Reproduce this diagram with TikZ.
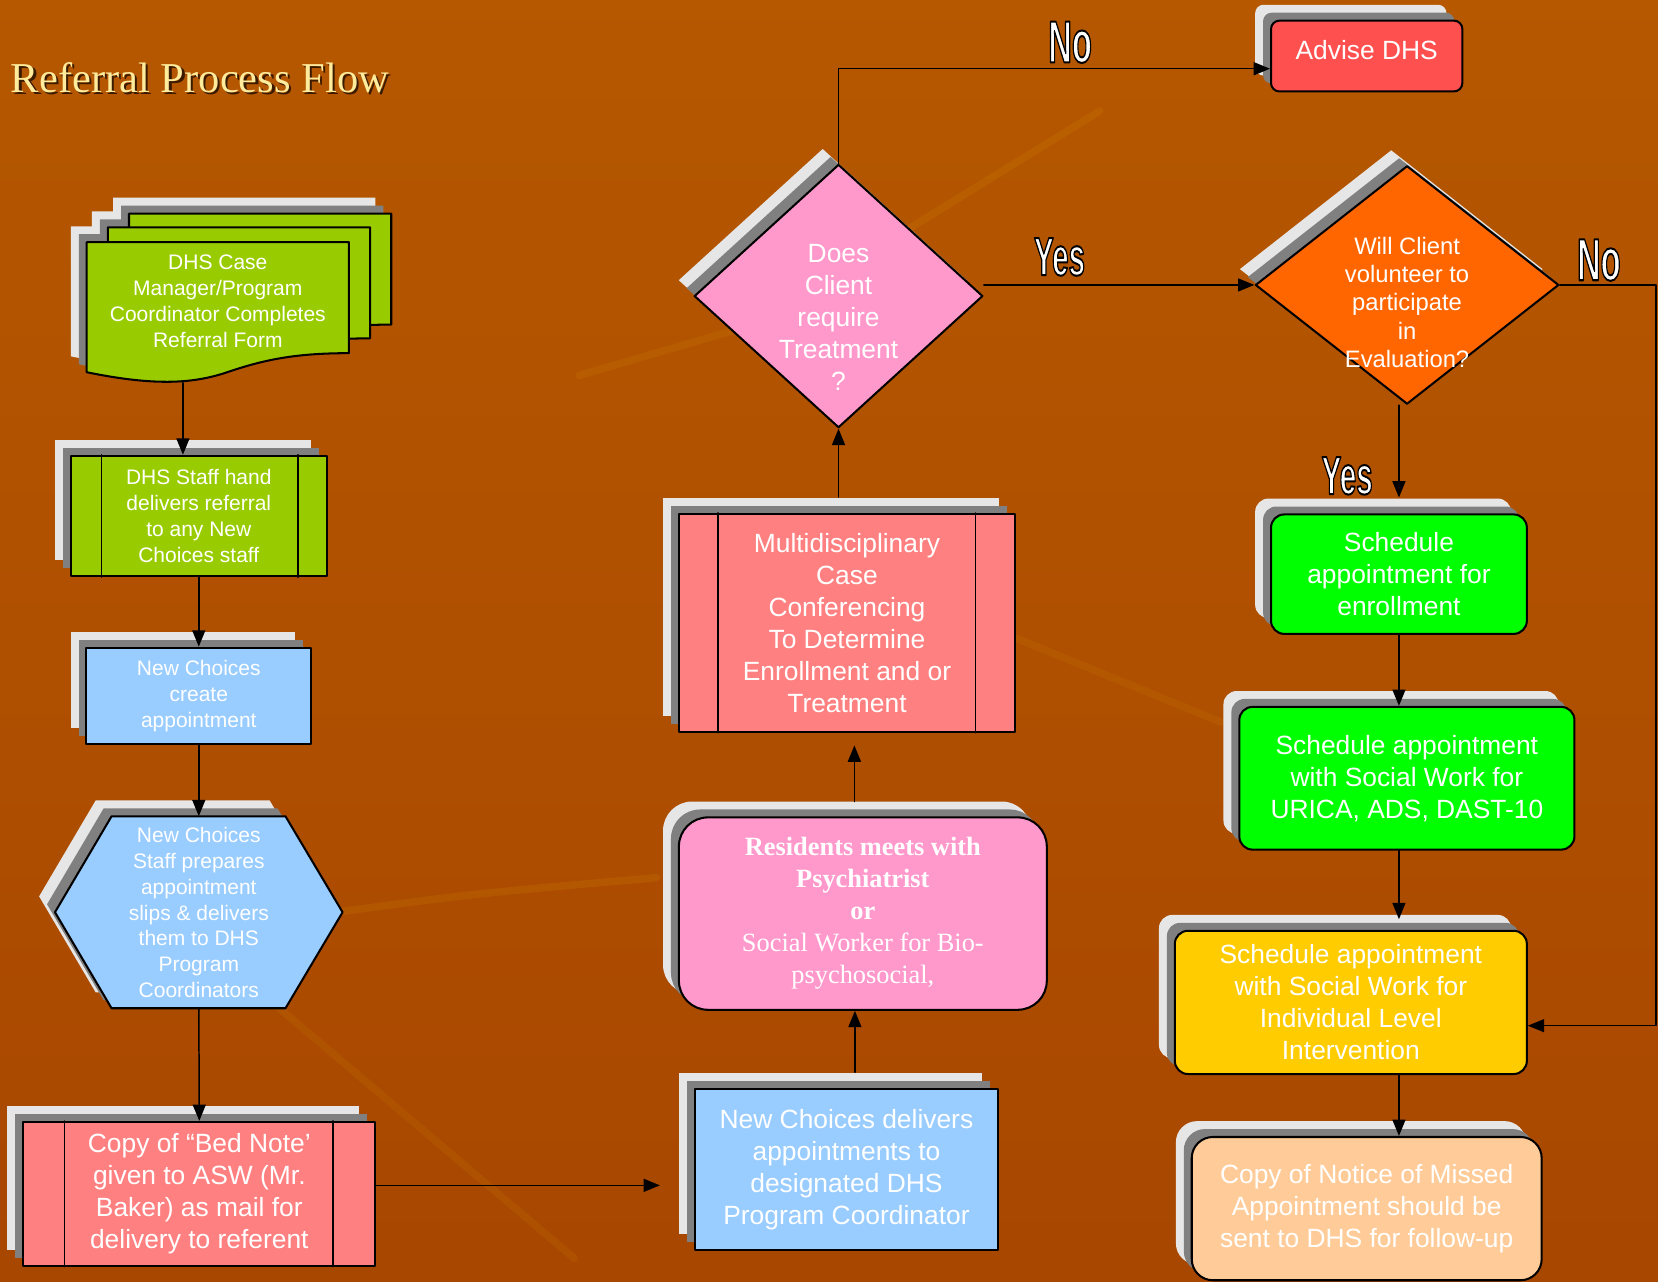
\documentclass[tikz,border=0pt]{standalone}
\usepackage{fontspec}
\setmainfont{Liberation Sans}
\newfontfamily\serifface{Liberation Serif}
\usetikzlibrary{arrows.meta}
\usetikzlibrary{shapes.geometric,shadows,calc}

\definecolor{bgtop}{HTML}{6A3400}
\definecolor{bgmidc}{HTML}{A85200}
\definecolor{bgmidb}{HTML}{B85C00}
\definecolor{bgmida}{HTML}{AE4E00}
\definecolor{bgbot}{HTML}{A03E00}
\definecolor{vein}{HTML}{D08A00}
\definecolor{shlight}{HTML}{E6E6E6}
\definecolor{shdark}{HTML}{808080}
\definecolor{docgreen}{HTML}{99CC00}
\definecolor{skyblue}{HTML}{99CCFF}
\definecolor{salmon}{HTML}{FF8080}
\definecolor{pinkbox}{HTML}{FF99CC}
\definecolor{advred}{HTML}{FF5050}
\definecolor{orangedia}{HTML}{FF6600}
\definecolor{brightgreen}{HTML}{00FF00}
\definecolor{goldbox}{HTML}{FFCC00}
\definecolor{peachbox}{HTML}{FFCC99}
\definecolor{titleyellow}{HTML}{FFEB9C}
\definecolor{titleshade}{HTML}{3A1A00}

\pgfdeclareverticalshading{bgshade}{100bp}{color(0bp)=(bgbot); color(45bp)=(bgmida); color(88bp)=(bgmidb); color(95bp)=(bgmidc); color(100bp)=(bgtop)}

% white letters with a black rim (fill + stroke render mode)
\newcommand\rimmed[1]{\special{pdf:literal direct 2 Tr 1.1 w 0 0 0 RG}#1\special{pdf:literal direct 0 Tr}}

% outline of one referral sheet, front sheet position
\def\docpath{(82,229) -- (330,229) -- (330,334) .. controls (280,334) and (250,340) .. (215,352) .. controls (185,362) and (150,366) .. (82,352) -- cycle}

\begin{document}
\begin{tikzpicture}[x=0.02cm,y=-0.02cm,line cap=round,line join=round,
    >={Triangle[length=8.8pt,width=7pt]},
    raised/.style={general shadow={fill=shlight,shadow xshift=-0.3cm,shadow yshift=0.3cm},
                   general shadow={fill=shdark,shadow xshift=-0.15cm,shadow yshift=0.15cm},
                   draw=black,line width=1.1pt},
    boxtext/.style={text=white,align=center,font=\fontsize{14.2}{17.2}\selectfont,inner sep=2pt},
    smalltext/.style={text=white,align=center,font=\fontsize{11.3}{13.9}\selectfont,inner sep=2pt},
    willtext/.style={text=white,align=center,font=\fontsize{12.8}{15.3}\selectfont,inner sep=0pt},
    flow/.style={->,line width=0.8pt},
    answer/.style={text=white,font=\bfseries\fontsize{#1}{#1}\selectfont,inner sep=0pt}]
  \useasboundingbox (0,0) rectangle (1568,1212);
  \shade[shading=bgshade] (0,0) rectangle (1568,1212);
  % faint leaf veins of the backdrop
  \draw[vein,opacity=0.18,line width=4pt] (323,862) .. controls (450,845) .. (621,830);
  \draw[vein,opacity=0.15,line width=4pt] (260,950) -- (543,1190);
  \draw[vein,opacity=0.18,line width=4pt] (1040,105) -- (852,221) (692,313) -- (548,355);
  \draw[vein,opacity=0.15,line width=4pt] (962,604) -- (1155,683);

  % title
  \node[anchor=base west,inner sep=0pt,text=titleyellow,font=\serifface\fontsize{22.9}{27}\selectfont] (title) at (10,87.6)
    {\makebox[0pt][l]{\hspace{1.2pt}\raisebox{-1.2pt}{\textcolor{titleshade}{Referral Process Flow}}}Referral Process Flow};

  % stack of referral forms
  \foreach \dx/\dy in {40/-27,20/-14,0/0}
    \fill[shlight,shift={(\dx-15,\dy-15)}] \docpath;
  \foreach \dx/\dy in {40/-27,20/-14,0/0}
    \fill[shdark,shift={(\dx-7.5,\dy-7.5)}] \docpath;
  \foreach \dx/\dy in {40/-27,20/-14,0/0}
    \draw[fill=docgreen,line width=1.1pt,shift={(\dx,\dy)}] \docpath;
  \node[smalltext] (form) at (206,285) {DHS Case\\Manager/Program\\Coordinator Completes\\Referral Form};
  \coordinate (formbot) at (173,362);

  % hexagon
  \def\hexpath{(52,862.7) -- (105.5,772) -- (270,772) -- (324,862.7) -- (270,953.5) -- (105.5,953.5) -- cycle}
  \fill[shlight,shift={(-15,-15)}] \hexpath;
  \fill[shdark,shift={(-7.5,-7.5)}] \hexpath;
  \draw[fill=skyblue,line width=1.1pt] \hexpath;

  % left column
  \node[raised,fill=docgreen,minimum width=4.84cm,minimum height=2.28cm,smalltext] (staff) at (188,488)
    {DHS Staff hand\\delivers referral\\to any New\\Choices staff};
  \draw[line width=0.7pt] ([xshift=0.6cm]staff.north west) -- ([xshift=0.6cm]staff.south west)
    ([xshift=-0.56cm]staff.north east) -- ([xshift=-0.56cm]staff.south east);
  \node[raised,fill=skyblue,minimum width=4.25cm,minimum height=1.82cm,smalltext] (create) at (188,658)
    {New Choices\\create\\appointment};
  \node[smalltext,minimum width=5.45cm,minimum height=3.63cm] (hex) at (188,863)
    {New Choices\\Staff prepares\\appointment\\slips \& delivers\\them to DHS\\Program\\Coordinators};
  \node[raised,fill=salmon,minimum width=6.66cm,minimum height=2.72cm,boxtext] (bednote) at (188.5,1129)
    {Copy of “Bed Note’\\given to ASW (Mr.\\Baker) as mail for\\delivery to referent};
  \draw[line width=0.7pt] ([xshift=0.8cm]bednote.north west) -- ([xshift=0.8cm]bednote.south west)
    ([xshift=-0.82cm]bednote.north east) -- ([xshift=-0.82cm]bednote.south east);

  % middle column
  \node[raised,fill=skyblue,minimum width=5.74cm,minimum height=3.04cm,boxtext] (ncdel) at (800.5,1106)
    {New Choices delivers\\appointments to\\designated DHS\\Program Coordinator};
  \node[raised,fill=pinkbox,rounded corners=0.55cm,minimum width=6.96cm,minimum height=3.64cm,boxtext,
    font=\serifface\fontsize{14.2}{17.2}\selectfont] (resid) at (816,864)
    {\textbf{Residents meets with}\\\textbf{Psychiatrist}\\\textbf{or}\\Social Worker for Bio-\\psychosocial,};
  \node[raised,fill=salmon,minimum width=6.36cm,minimum height=4.12cm,boxtext] (multi) at (801,589)
    {Multidisciplinary\\Case\\Conferencing\\To Determine\\Enrollment and or\\Treatment};
  \draw[line width=0.7pt] ([xshift=0.76cm]multi.north west) -- ([xshift=0.76cm]multi.south west)
    ([xshift=-0.77cm]multi.north east) -- ([xshift=-0.77cm]multi.south east);
  \node[raised,diamond,fill=pinkbox,minimum width=5.46cm,minimum height=4.98cm,inner sep=0pt,
    label={[boxtext,yshift=-0.4cm]center:{Does\\Client\\require\\Treatment\\?}}] (does) at (793,280) {};

  % right column
  \node[raised,fill=advred,rounded corners=0.16cm,minimum width=3.62cm,minimum height=1.34cm,boxtext,
    text depth=0.24cm] (advise) at (1292.5,53) {Advise DHS};
  \node[raised,diamond,fill=orangedia,minimum width=5.74cm,minimum height=4.51cm,inner sep=0pt,
    label={[willtext,yshift=-0.33cm]center:{Will Client\\volunteer to\\participate\\in\\Evaluation?}}] (will) at (1330.7,269.5) {};
  \node[raised,fill=brightgreen,rounded corners=0.25cm,minimum width=4.84cm,minimum height=2.26cm,boxtext] (enroll) at (1323,543)
    {Schedule\\appointment for\\enrollment};
  \node[raised,fill=brightgreen,rounded corners=0.25cm,minimum width=6.34cm,minimum height=2.7cm,boxtext] (swork) at (1330.5,736)
    {Schedule appointment\\with Social Work for\\URICA, ADS, DAST-10};
  \node[raised,fill=goldbox,rounded corners=0.25cm,minimum width=6.66cm,minimum height=2.71cm,boxtext] (indiv) at (1277.5,948)
    {Schedule appointment\\with Social Work for\\Individual Level\\Intervention};
  \node[raised,fill=peachbox,rounded corners=0.4cm,minimum width=6.62cm,minimum height=2.71cm,boxtext] (missed) at (1292.5,1143)
    {Copy of Notice of Missed\\Appointment should be\\sent to DHS for follow-up};

  % connectors
  \draw[flow] (formbot) -- (formbot |- staff.north);
  \draw[flow] (staff.south) -- (create.north);
  \draw[flow] (create.south) -- (hex.north);
  \draw[flow] (hex.south) -- (bednote.north);
  \coordinate (bnout) at ($(bednote.east)+(0,-8)$);
  \draw[flow,shorten >=0.64cm] (bnout) -- (bnout -| ncdel.west);
  \coordinate (ncup) at ($(ncdel.north)+(8,-15)$);
  \draw[flow] (ncup) -- (ncup |- resid.south);
  \coordinate (resup) at ($(resid.north)+(-8,-14)$);
  \draw[flow,shorten >=0.24cm] (resup) -- (resup |- multi.south);
  \coordinate (multiup) at ($(multi.north)+(-8,-15)$);
  \draw[flow] (multiup) -- (multiup |- does.south);
  \coordinate (advin) at ($(advise.west)+(0,12)$);
  \draw[flow] (does.north) |- (advin);
  \draw[flow] (does.east |- will.west) -- (will.west);
  \coordinate (noin) at ($(indiv.east)+(0,22)$);
  \draw[flow] (will.east) -- ++(91,0) |- (noin);
  \draw[flow,shorten >=0.3cm] (will.south -| enroll.north) -- (enroll.north);
  \draw[flow] (enroll.south) -- (enroll.south |- swork.north);
  \draw[flow,shorten >=0.2cm] (enroll.south |- swork.south) -- (enroll.south |- indiv.north);
  \draw[flow] (enroll.south |- indiv.south) -- (enroll.south |- missed.north);

  % answers
  \node[answer=32] (notop) at (1012,40) {\scalebox{0.55}[1]{\rimmed{No}}};
  \node[answer=29] (yesmid) at (1002,243) {\scalebox{0.55}[1]{\rimmed{Yes}}};
  \node[answer=32] (noright) at (1512,246) {\scalebox{0.55}[1]{\rimmed{No}}};
  \node[answer=29] (yesdown) at (1274,450) {\scalebox{0.55}[1]{\rimmed{Yes}}};
\end{tikzpicture}
\end{document}
